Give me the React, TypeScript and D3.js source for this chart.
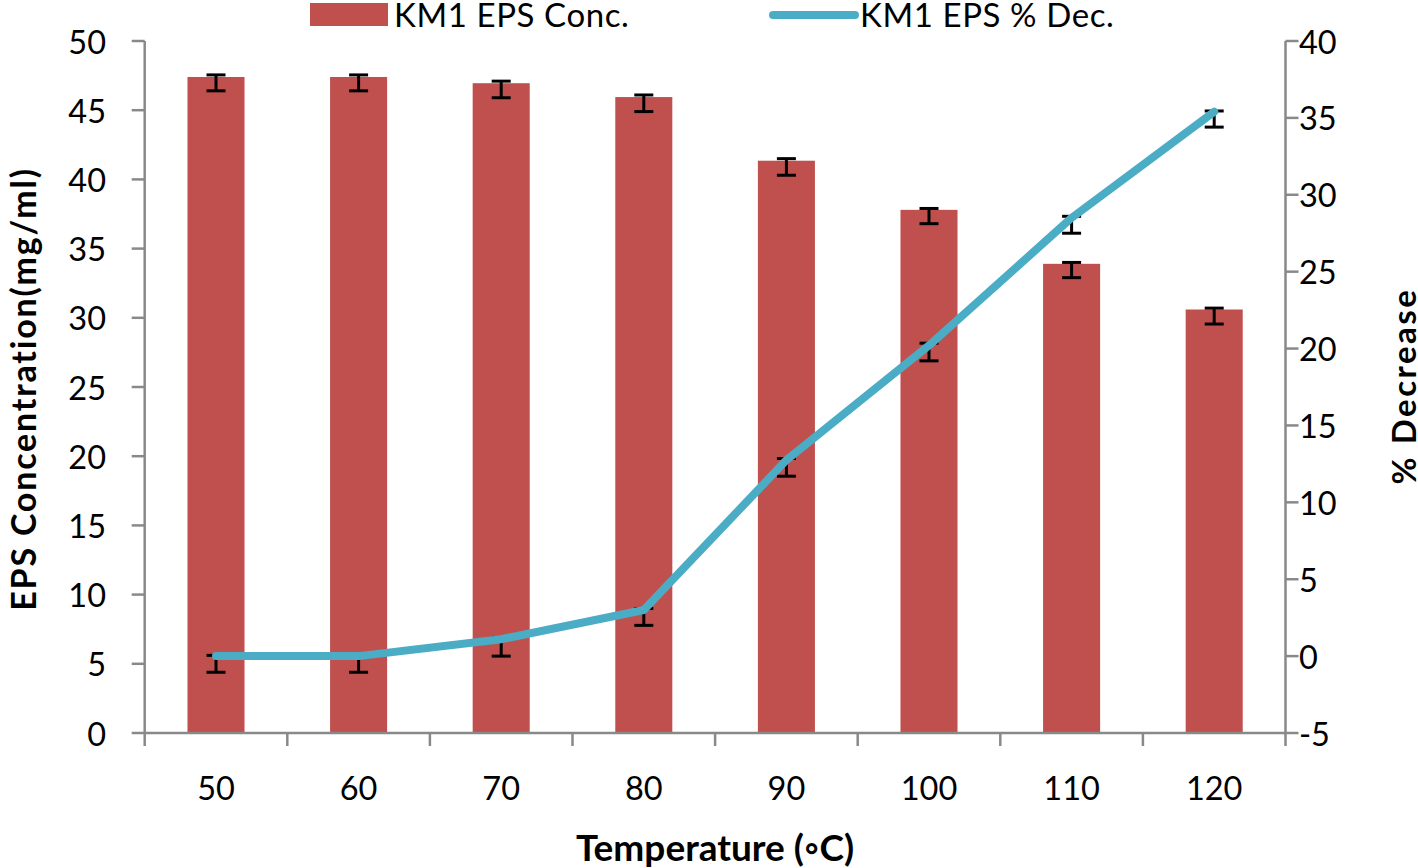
import React from "react";
import * as d3 from "d3";

const categories = ["50", "60", "70", "80", "90", "100", "110", "120"];
const conc = [47.4, 47.4, 46.95, 45.95, 41.35, 37.8, 33.9, 30.6];
const concLow = [46.4, 46.4, 45.9, 44.9, 40.3, 36.8, 32.9, 29.55];
const concHigh = [47.55, 47.55, 47.1, 46.1, 41.5, 37.9, 34.0, 30.7];
const dec = [0, 0, 1.1, 3.0, 12.75, 20.2, 28.5, 35.4];
const decLow = [-1.05, -1.05, 0.0, 2.0, 11.7, 19.2, 27.5, 34.4];
const decHigh = [0.05, 0.05, 1.2, 3.1, 12.85, 20.35, 28.6, 35.45];
const leftTicks = [0, 5, 10, 15, 20, 25, 30, 35, 40, 45, 50];
const rightTicks = [-5, 0, 5, 10, 15, 20, 25, 30, 35, 40];

const W = 1418;
const H = 868;
const X0 = 144.7;
const X1 = 1285.5;
const Y0 = 733;
const Y1 = 41;
const BAR = "#C0504D";
const LINE = "#4BACC6";
const AXIS = "#898989";
const FONT = "Lato, 'Open Sans', sans-serif";

export default function App() {
  const x = d3.scaleBand<string>().domain(categories).range([X0, X1]).paddingInner(0.6).paddingOuter(0.3);
  const step = x.step();
  const yL = d3.scaleLinear().domain([0, 50]).range([Y0, Y1]);
  const yR = d3.scaleLinear().domain([-5, 40]).range([Y0, Y1]);
  const cx = (c: string) => (x(c) as number) + x.bandwidth() / 2;
  const line = d3
    .line<number>()
    .x((_, i) => cx(categories[i]))
    .y((d) => yR(d));
  const cap = 9.5;
  const tickLen = 13;
  const boundaries = d3.range(categories.length + 1).map((i) => X0 + i * step);
  const tickFs = 32.5;

  return (
    <svg width={W} height={H} style={{ position: "absolute", left: 0, top: 0, background: "#fff" }} fontFamily={FONT}>
      {/* bars */}
      {categories.map((c, i) => (
        <rect key={c} x={x(c)} y={yL(conc[i])} width={x.bandwidth()} height={yL(0) - yL(conc[i])} fill={BAR} />
      ))}
      {/* bar error bars */}
      {categories.map((c, i) => {
        const m = cx(c);
        return (
          <g key={"be" + c} stroke="#000" strokeWidth={3}>
            <line x1={m} x2={m} y1={yL(concHigh[i])} y2={yL(concLow[i])} />
            <line x1={m - cap} x2={m + cap} y1={yL(concHigh[i])} y2={yL(concHigh[i])} />
            <line x1={m - cap} x2={m + cap} y1={yL(concLow[i])} y2={yL(concLow[i])} />
          </g>
        );
      })}
      {/* line error bars */}
      {categories.map((c, i) => {
        const m = cx(c);
        return (
          <g key={"le" + c} stroke="#000" strokeWidth={3}>
            <line x1={m} x2={m} y1={yR(decHigh[i])} y2={yR(decLow[i])} />
            <line x1={m - cap} x2={m + cap} y1={yR(decHigh[i])} y2={yR(decHigh[i])} />
            <line x1={m - cap} x2={m + cap} y1={yR(decLow[i])} y2={yR(decLow[i])} />
          </g>
        );
      })}
      {/* line */}
      <path d={line(dec) || ""} fill="none" stroke={LINE} strokeWidth={8} strokeLinecap="round" strokeLinejoin="round" />

      {/* x axis */}
      <line x1={X0} x2={X1} y1={Y0} y2={Y0} stroke={AXIS} strokeWidth={2.5} />
      {boundaries.map((b, i) => (
        <line key={"xt" + i} x1={b} x2={b} y1={Y0} y2={Y0 + tickLen} stroke={AXIS} strokeWidth={2.5} />
      ))}
      {categories.map((c) => (
        <text key={"xl" + c} x={cx(c)} y={787} textAnchor="middle" dominantBaseline="central" fontSize={tickFs} fill="#000">
          {c}
        </text>
      ))}
      {/* left axis */}
      <line x1={X0} x2={X0} y1={Y1} y2={Y0} stroke={AXIS} strokeWidth={2.5} />
      {leftTicks.map((t) => (
        <g key={"lt" + t}>
          <line x1={X0 - tickLen} x2={X0} y1={yL(t)} y2={yL(t)} stroke={AXIS} strokeWidth={2.5} />
          <text x={106} y={yL(t)} textAnchor="end" dominantBaseline="central" fontSize={tickFs} fill="#000">
            {t}
          </text>
        </g>
      ))}
      {/* right axis */}
      <line x1={X1} x2={X1} y1={Y1} y2={Y0} stroke={AXIS} strokeWidth={2.5} />
      {rightTicks.map((t) => (
        <g key={"rt" + t}>
          <line x1={X1} x2={X1 + tickLen} y1={yR(t)} y2={yR(t)} stroke={AXIS} strokeWidth={2.5} />
          <text x={1299} y={yR(t)} textAnchor="start" dominantBaseline="central" fontSize={tickFs} fill="#000">
            {t}
          </text>
        </g>
      ))}

      {/* titles */}
      <text x={715} y={861} textAnchor="middle" fontSize={37} fontWeight="bold" fill="#000">
        Temperature (◦C)
      </text>
      <text
        transform={`translate(36,${(Y0 + Y1) / 2 + 2}) rotate(-90)`}
        textAnchor="middle"
        fontSize={34}
        letterSpacing={1.8}
        fontWeight="bold"
        fill="#000"
      >
        EPS Concentration(mg/ml)
      </text>
      <text
        transform={`translate(1416,386) rotate(-90)`}
        textAnchor="middle"
        fontSize={33}
        letterSpacing={2.5}
        fontWeight="bold"
        fill="#000"
      >
        % Decrease
      </text>

      {/* legend */}
      <rect x={310} y={3} width={78} height={23} fill={BAR} />
      <text x={394} y={27} fontSize={33} letterSpacing={0.6} fill="#000">
        KM1 EPS Conc.
      </text>
      <line x1={773} x2={855} y1={15} y2={15} stroke={LINE} strokeWidth={8} strokeLinecap="round" />
      <text x={860} y={27} fontSize={33} letterSpacing={0.6} fill="#000">
        KM1 EPS % Dec.
      </text>
    </svg>
  );
}
